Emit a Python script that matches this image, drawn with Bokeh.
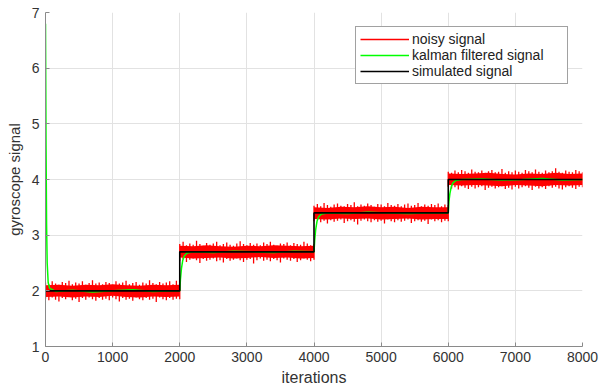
from bokeh.plotting import figure
from bokeh.models import Range1d, FixedTicker, Legend, LegendItem
from bokeh.embed import file_html
from bokeh.resources import INLINE

# ---- data ----
step_edges = [0, 2000, 4000, 6000, 8000]
levels = [2.0, 2.7, 3.4, 4.0]
hair_step = 50    # spacing of the noise spikes (iterations)
core_step = 200   # spacing of the dense-core envelope samples (iterations)

# noisy signal, spike extent above / below the level (every 50 iterations)
noise_hi_1 = [0.15, 0.12, 0.17, 0.13, 0.11, 0.16, 0.14, 0.18, 0.12, 0.15, 0.13, 0.17, 0.11, 0.14, 0.19, 0.13, 0.15, 0.12, 0.16, 0.14, 0.11,
              0.17, 0.13, 0.15, 0.18, 0.12, 0.14, 0.16, 0.11, 0.15, 0.13, 0.19, 0.14, 0.12, 0.16, 0.13, 0.15, 0.17, 0.12, 0.18, 0.14]
noise_lo_1 = [0.14, 0.17, 0.12, 0.16, 0.19, 0.13, 0.15, 0.11, 0.17, 0.14, 0.20, 0.13, 0.16, 0.12, 0.15, 0.18, 0.13, 0.16, 0.14, 0.17, 0.12,
              0.15, 0.19, 0.13, 0.16, 0.14, 0.18, 0.12, 0.15, 0.17, 0.13, 0.16, 0.14, 0.20, 0.12, 0.15, 0.17, 0.13, 0.16, 0.14, 0.15]
noise_hi_2 = [0.14, 0.18, 0.12, 0.15, 0.13, 0.20, 0.14, 0.11, 0.16, 0.13, 0.15, 0.18, 0.12, 0.14, 0.17, 0.13, 0.11, 0.15, 0.19, 0.14, 0.12,
              0.16, 0.13, 0.15, 0.12, 0.17, 0.14, 0.18, 0.13, 0.11, 0.15, 0.14, 0.17, 0.12, 0.16, 0.14, 0.13, 0.18, 0.15, 0.12, 0.14]
noise_lo_2 = [0.16, 0.13, 0.18, 0.14, 0.12, 0.15, 0.20, 0.13, 0.16, 0.14, 0.12, 0.17, 0.15, 0.19, 0.13, 0.16, 0.14, 0.12, 0.15, 0.18, 0.14,
              0.13, 0.21, 0.15, 0.12, 0.16, 0.14, 0.17, 0.13, 0.15, 0.19, 0.12, 0.14, 0.16, 0.13, 0.18, 0.15, 0.12, 0.14, 0.17, 0.14]
noise_hi_3 = [0.13, 0.16, 0.12, 0.18, 0.14, 0.11, 0.15, 0.17, 0.13, 0.12, 0.16, 0.14, 0.19, 0.12, 0.15, 0.13, 0.17, 0.14, 0.11, 0.16, 0.15,
              0.12, 0.18, 0.14, 0.13, 0.16, 0.12, 0.15, 0.17, 0.13, 0.14, 0.18, 0.12, 0.15, 0.13, 0.16, 0.14, 0.17, 0.12, 0.15, 0.14]
noise_lo_3 = [0.15, 0.12, 0.17, 0.14, 0.19, 0.13, 0.16, 0.14, 0.12, 0.18, 0.15, 0.13, 0.16, 0.21, 0.14, 0.12, 0.15, 0.17, 0.13, 0.16, 0.14,
              0.19, 0.12, 0.15, 0.17, 0.13, 0.16, 0.14, 0.12, 0.18, 0.15, 0.13, 0.16, 0.14, 0.20, 0.12, 0.15, 0.13, 0.17, 0.14, 0.15]
noise_hi_4 = [0.14, 0.12, 0.16, 0.13, 0.17, 0.15, 0.12, 0.18, 0.14, 0.13, 0.16, 0.12, 0.15, 0.17, 0.13, 0.14, 0.19, 0.12, 0.15, 0.13, 0.16,
              0.14, 0.12, 0.17, 0.15, 0.13, 0.18, 0.14, 0.12, 0.16, 0.13, 0.15, 0.20, 0.14, 0.12, 0.16, 0.14, 0.13, 0.17, 0.15, 0.13]
noise_lo_4 = [0.13, 0.16, 0.14, 0.18, 0.12, 0.15, 0.17, 0.13, 0.16, 0.14, 0.12, 0.19, 0.15, 0.13, 0.16, 0.14, 0.12, 0.17, 0.15, 0.18, 0.13,
              0.16, 0.14, 0.12, 0.15, 0.19, 0.13, 0.16, 0.14, 0.17, 0.12, 0.15, 0.13, 0.16, 0.18, 0.14, 0.12, 0.15, 0.17, 0.13, 0.14]

# noisy signal, dense core above / below the level (every 200 iterations)
core_hi_1 = [0.10, 0.11, 0.09, 0.11, 0.10, 0.12, 0.10, 0.09, 0.11, 0.10, 0.11]
core_lo_1 = [0.11, 0.10, 0.12, 0.10, 0.11, 0.09, 0.11, 0.12, 0.10, 0.11, 0.10]
core_hi_2 = [0.11, 0.10, 0.12, 0.10, 0.09, 0.11, 0.10, 0.12, 0.11, 0.10, 0.11]
core_lo_2 = [0.10, 0.12, 0.11, 0.10, 0.12, 0.11, 0.09, 0.11, 0.10, 0.12, 0.11]
core_hi_3 = [0.10, 0.09, 0.11, 0.10, 0.12, 0.10, 0.11, 0.09, 0.11, 0.10, 0.10]
core_lo_3 = [0.11, 0.12, 0.10, 0.11, 0.10, 0.12, 0.11, 0.10, 0.12, 0.11, 0.11]
core_hi_4 = [0.11, 0.10, 0.11, 0.12, 0.10, 0.09, 0.11, 0.10, 0.12, 0.10, 0.11]
core_lo_4 = [0.10, 0.11, 0.10, 0.11, 0.12, 0.10, 0.11, 0.12, 0.10, 0.11, 0.10]

# kalman filtered signal
kalman_x = [0, 8, 16, 25, 40, 60, 150, 400, 700, 1000, 1300, 1600, 1900, 2000,
            2010, 2025, 2045, 2070, 2110, 2200, 2500, 2800, 3100, 3400, 3700, 4000,
            4010, 4025, 4045, 4070, 4110, 4200, 4500, 4800, 5100, 5400, 5700, 6000,
            6010, 6025, 6045, 6070, 6110, 6200, 6500, 6800, 7100, 7400, 7700, 8000]
kalman_y = [6.8, 4.6, 3.2, 2.5, 2.15, 2.05, 1.99, 2.01, 1.98, 2.0, 2.02, 1.99, 2.0, 2.0,
            2.2, 2.4, 2.55, 2.63, 2.68, 2.7, 2.69, 2.71, 2.7, 2.69, 2.71, 2.7,
            2.9, 3.1, 3.25, 3.33, 3.38, 3.4, 3.39, 3.41, 3.4, 3.39, 3.4, 3.4,
            3.6, 3.75, 3.87, 3.94, 3.98, 4.0, 4.01, 3.99, 4.0, 4.02, 3.99, 4.0]

x_ticks = [0, 1000, 2000, 3000, 4000, 5000, 6000, 7000, 8000]
y_ticks = [1, 2, 3, 4, 5, 6, 7]

# ---- build series ----
hair_hi = [noise_hi_1, noise_hi_2, noise_hi_3, noise_hi_4]
hair_lo = [noise_lo_1, noise_lo_2, noise_lo_3, noise_lo_4]
c_hi = [core_hi_1, core_hi_2, core_hi_3, core_hi_4]
c_lo = [core_lo_1, core_lo_2, core_lo_3, core_lo_4]
hx, hy0, hy1 = [], [], []
cx, cy0, cy1 = [], [], []
sim_x, sim_y = [], []
for i, lev in enumerate(levels):
    x0 = step_edges[i]
    for k, (h, l) in enumerate(zip(hair_hi[i], hair_lo[i])):
        hx.append(x0 + k * hair_step)
        hy0.append(lev - l)
        hy1.append(lev + h)
    for k, (h, l) in enumerate(zip(c_hi[i], c_lo[i])):
        cx.append(x0 + k * core_step)
        cy0.append(lev - l)
        cy1.append(lev + h)
    sim_x += [step_edges[i], step_edges[i + 1]]
    sim_y += [lev, lev]

FONT = "Liberation Sans"

p = figure(width=599, height=388, output_backend="svg", toolbar_location=None,
           x_range=Range1d(0, 8000), y_range=Range1d(1, 7),
           min_border_left=45, min_border_top=12, min_border_right=17, min_border_bottom=40)
p.outline_line_color = None
p.background_fill_color = "white"
p.border_fill_color = "white"

for ax in (p.xaxis[0], p.yaxis[0]):
    ax.axis_line_color = "#8a8a8a"
    ax.major_tick_line_color = "#8a8a8a"
    ax.major_tick_in = 4
    ax.major_tick_out = 0
    ax.minor_tick_line_color = None
    ax.major_label_text_font = FONT
    ax.major_label_text_font_size = "14px"
    ax.major_label_text_color = "#333333"
    ax.axis_label_text_font = FONT
    ax.axis_label_text_font_style = "normal"
    ax.axis_label_text_color = "#333333"

p.xaxis.ticker = FixedTicker(ticks=x_ticks)
p.yaxis.ticker = FixedTicker(ticks=y_ticks)
p.xaxis.axis_label = "iterations"
p.yaxis.axis_label = "gyroscope signal"
p.xaxis.axis_label_text_font_size = "16px"
p.yaxis.axis_label_text_font_size = "15px"
p.xaxis.major_label_standoff = 5
p.yaxis.major_label_standoff = 6
p.xaxis.axis_label_standoff = 4
p.yaxis.axis_label_standoff = 6

p.xgrid.ticker = FixedTicker(ticks=x_ticks)
p.ygrid.ticker = FixedTicker(ticks=y_ticks)
p.grid.grid_line_color = "#e2e2e2"
p.grid.grid_line_width = 1

RED = "#ff0000"
p.varea(x=cx, y1=cy0, y2=cy1, fill_color=RED, fill_alpha=1.0)
noisy = p.segment(x0=hx, y0=hy0, x1=hx, y1=hy1, line_color=RED, line_width=1.3)
kal = p.line(kalman_x, kalman_y, line_color="#00ff00", line_width=1.5)
sim = p.line(sim_x, sim_y, line_color="#000000", line_width=1.6)

legend = Legend(items=[LegendItem(label="noisy signal", renderers=[noisy]),
                       LegendItem(label="kalman filtered signal", renderers=[kal]),
                       LegendItem(label="simulated signal", renderers=[sim])],
                location="top_right")
legend.margin = 14
legend.padding = 4
legend.spacing = 0
legend.label_height = 14
legend.glyph_height = 14
legend.glyph_width = 49
legend.label_standoff = 3
legend.label_width = 151
legend.label_text_font = FONT
legend.label_text_font_size = "14px"
legend.label_text_color = "#222222"
legend.border_line_color = "#444444"
legend.border_line_width = 1
legend.background_fill_alpha = 1.0
p.add_layout(legend)

open("out.html", "w").write(file_html(p, INLINE))
